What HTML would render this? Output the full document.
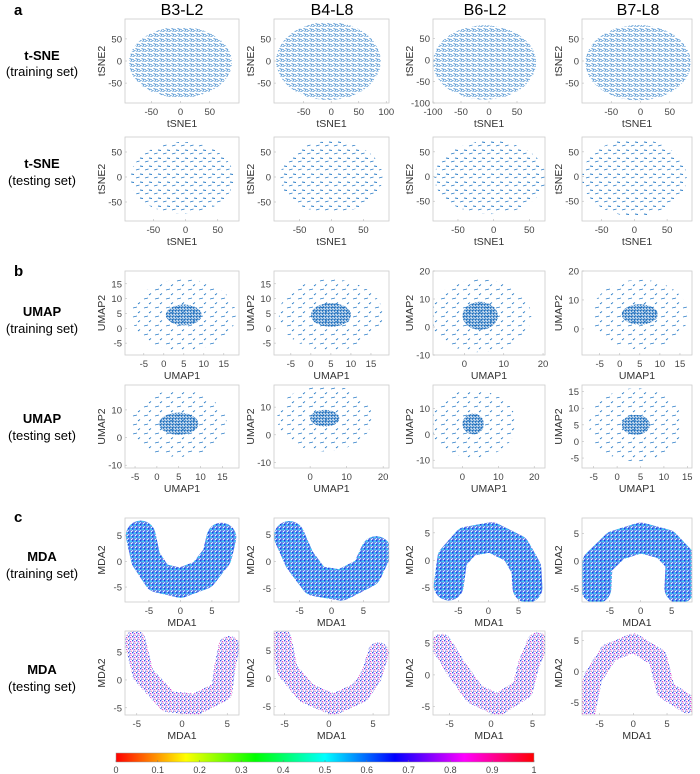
<!DOCTYPE html>
<html><head><meta charset="utf-8">
<style>
html,body{margin:0;padding:0;background:#fff;}
svg{display:block;font-family:"Liberation Sans",Arial,sans-serif;}
</style></head>
<body>
<svg id="fig" width="700" height="774" viewBox="0 0 700 774" xmlns="http://www.w3.org/2000/svg">
<defs>
  <pattern id="pTrain" width="6" height="5" patternUnits="userSpaceOnUse">
    <g stroke="#2a7cc7" stroke-width="0.9" fill="none">
      <path d="M0.5 1.5 l3 -1"/><path d="M3.5 3.5 l2.5 1"/><path d="M0.5 4 l1 1"/><path d="M4.5 1.5 l1.5 -1"/>
    </g>
  </pattern>
  <pattern id="pTest" width="9" height="8" patternUnits="userSpaceOnUse">
    <g stroke="#2a7cc7" stroke-width="0.9" fill="none">
      <path d="M1 2 l3.5 -1"/><path d="M5 6 l3 0.5"/>
    </g>
  </pattern>
  <pattern id="pUmapDense" width="3" height="3" patternUnits="userSpaceOnUse">
    <g stroke="#1f6fbd" stroke-width="1" fill="none"><path d="M0 1 l3 1"/><path d="M1 3 l1.5 -3"/></g>
  </pattern>
  <pattern id="pUmapSparse" width="11" height="9" patternUnits="userSpaceOnUse">
    <g stroke="#2a7cc7" stroke-width="0.9" fill="none"><path d="M1 2 l4 -1"/><path d="M6 7 l2 -1.5"/></g>
  </pattern>
  <pattern id="pMdaTrain" width="4" height="4" patternUnits="userSpaceOnUse">
    <rect width="4" height="4" fill="#55a6f2"/>
    <rect x="0" y="0" width="1.4" height="1.4" fill="#1a3de6"/>
    <rect x="2" y="1" width="1.3" height="1.3" fill="#36dcf2"/>
    <rect x="1" y="2.6" width="1.2" height="1.2" fill="#6a48e2"/>
    <rect x="3" y="3" width="1" height="1" fill="#ffffff"/>
    <rect x="0" y="2" width="0.8" height="0.8" fill="#ffffff"/>
    <rect x="2.6" y="2.4" width="0.8" height="0.8" fill="#d838c8"/>
  </pattern>
  <pattern id="pMdaTest" width="4" height="4" patternUnits="userSpaceOnUse">
    <rect width="4" height="4" fill="#ffffff"/>
    <rect x="0" y="0" width="1.4" height="1.4" fill="#4050e8"/>
    <rect x="2" y="1" width="1.2" height="1.2" fill="#d040d8"/>
    <rect x="1" y="2.6" width="1.2" height="1.2" fill="#6a70f0"/>
    <rect x="3" y="2.8" width="0.9" height="0.9" fill="#f040a0"/>
    <rect x="2.2" y="3.2" width="0.6" height="0.6" fill="#40c8f0"/>
  </pattern>
  <linearGradient id="hsvGrad" x1="0" x2="1" y1="0" y2="0">
    <stop offset="0" stop-color="#ff0000"/><stop offset="0.167" stop-color="#ffff00"/>
    <stop offset="0.333" stop-color="#00ff00"/><stop offset="0.5" stop-color="#00ffff"/>
    <stop offset="0.667" stop-color="#0000ff"/><stop offset="0.833" stop-color="#ff00ff"/>
    <stop offset="1" stop-color="#ff0000"/>
  </linearGradient>
</defs>

<text x="14" y="15" font-size="15" font-weight="bold">a</text>
<text x="14" y="276" font-size="15" font-weight="bold">b</text>
<text x="14" y="522" font-size="15" font-weight="bold">c</text>

<text x="182" y="15" font-size="16" text-anchor="middle">B3-L2</text>
<text x="332" y="15" font-size="16" text-anchor="middle">B4-L8</text>
<text x="485" y="15" font-size="16" text-anchor="middle">B6-L2</text>
<text x="638" y="15" font-size="16" text-anchor="middle">B7-L8</text>

<g font-size="13" text-anchor="middle">
  <text x="42" y="60" font-weight="bold">t-SNE</text>
  <text x="42" y="76">(training set)</text>
  <text x="42" y="168" font-weight="bold">t-SNE</text>
  <text x="42" y="185">(testing set)</text>
  <text x="42" y="316" font-weight="bold">UMAP</text>
  <text x="42" y="333">(training set)</text>
  <text x="42" y="423" font-weight="bold">UMAP</text>
  <text x="42" y="440">(testing set)</text>
  <text x="42" y="561" font-weight="bold">MDA</text>
  <text x="42" y="578">(training set)</text>
  <text x="42" y="674" font-weight="bold">MDA</text>
  <text x="42" y="691">(testing set)</text>
</g>

<g id="panels"></g>

<g>
  <rect x="116" y="753" width="418" height="9" fill="url(#hsvGrad)" stroke="#999" stroke-width="0.5"/>
  <g id="cbTicks" font-size="9" fill="#444" text-anchor="middle"></g>
</g>
</svg>

<script>
const NS = "http://www.w3.org/2000/svg";
// ---- data arrays ----
const colBoxes = [[125,239],[274,389],[433,545],[582,692]];
const rowBoxes = { tsneTr:[19,103], tsneTe:[137,221], umapTr:[271,355], umapTe:[385,468], mdaTr:[518,602], mdaTe:[631,715] };
const tsneTrainXlim = [[-95,100],[-104,105],[-100,100],[-100,88]];
const tsneTrainYlim = [[-95,95],[-95,95],[-100,95],[-95,95]];
const tsneTrainXticks = [[-50,0,50],[-50,0,50,100],[-100,-50,0,50],[-50,0,50]];
const tsneTrainYticks = [[-50,0,50],[-50,0,50],[-100,-50,0,50],[-50,0,50]];
const tsneTestXlim = [[-94,83],[-90,90],[-85,72],[-80,88]];
const tsneTestYlim = [[-88,80],[-88,80],[-90,80],[-90,80]];
const tsneTicks = [-50,0,50];
// blob regions: [cx, cy, rx, ry]
const tsneTrainBlobs = [[0,-3,88,80],[-5,0,95,88],[-8,-6,92,86],[-4,-4,90,85]];
const tsneTestBlobs = [[-5,-2,80,72],[0,0,80,72],[-5,-2,78,74],[0,-2,80,78]];
const umapTrainXlim = [[-9.7,18.8],[-9.2,19.5],[-8,20.5],[-9.4,18]];
const umapTrainYlim = [[-9,19.3],[-9,19.3],[-10,20],[-9,20]];
const umapTrainXticks = [[-5,0,5,10,15],[-5,0,5,10,15],[0,10,20],[-5,0,5,10,15]];
const umapTrainYticks = [[-5,0,5,10,15],[-5,0,5,10,15],[-10,0,10,20],[0,10,20]];
const umapTestXlim = [[-7.3,18.8],[-9.9,21.6],[-8.2,23],[-7.5,16]];
const umapTestYlim = [[-11,19],[-12,18],[-13,19],[-8,17]];
const umapTestXticks = [[-5,0,5,10,15],[0,10,20],[0,10,20],[-5,0,5,10,15]];
const umapTestYticks = [[-10,0,10],[-10,0,10],[-10,0,10],[-5,0,5,10,15]];
// [cx, cy, coreRx, coreRy, outerRx, outerRy]
const umapTrainBlobs = [[5,4.5,4.5,3.5,13,12],[5,4.5,5,4,13,12],[4,4,4.5,5,13,13],[5,5,4.5,3.5,12,12]];
const umapTestBlobs = [[5,5,4.5,4,11,12],[4,6,4,3,13,12],[3,4,3,4,12,13],[4,5,3,3,10,11]];
const mdaTrainXlim = [[-8.8,9.3],[-9,9],[-9.2,9.4],[-9.5,8.3]];
const mdaTrainYlim = [[-7.9,8.4],[-7.5,8],[-7.6,7.7],[-7.5,7.8]];
const mdaTestXlim = [[-6.3,6.3],[-6.2,6.8],[-7,6.5],[-7.6,8.7]];
const mdaTestYlim = [[-6.3,8.8],[-6.5,8.5],[-6.3,6.9],[-7,6.5]];
const mdaTrainTicksX = [-5,0,5];
const mdaTrainTicksY = [-5,0,5];
// centerlines (data coords) and widths (data units)
const mdaTrainPaths = [
  [[-6.3,5],[-5.5,0.5],[-3.5,-3.2],[0,-4.2],[3.5,-2.6],[5.8,1],[6.5,4.6]],
  [[-6.6,4.6],[-5,0.3],[-2.5,-3.6],[1.5,-4.4],[5.5,-2],[7,1.8]],
  [[-6.6,-4.6],[-6,0.3],[-3.5,3.4],[0.5,4.2],[4.5,2],[6.3,-1.5],[6.5,-5]],
  [[-7.2,-5],[-7,-0.5],[-4,2.8],[0,4.2],[4,3],[6.5,0],[6.3,-5]]
];
const mdaTrainWidths = [5.2,5.2,5.2,5.2];
const mdaTestPaths = [
  [[-5.2,7],[-4.3,1],[-1.5,-3.9],[1.5,-4.4],[4.4,-2],[4.7,2],[5.2,6]],
  [[-5.4,7],[-4.7,1.5],[-2.5,-2.6],[0.5,-4.6],[3.5,-2.5],[4.8,0.5],[5.6,4.6]],
  [[-6,4.8],[-4.2,1],[-2,-3],[0.8,-4.7],[3.8,-2.2],[4.5,1.5],[5.6,5]],
  [[-7,-6.5],[-6,-1],[-3.6,3],[0,4.6],[3.6,2.2],[4.8,-3],[8,-5.2]]
];
const mdaTestWidths = [2.9,2.9,2.9,2.9];
const cbTicks = [0,0.1,0.2,0.3,0.4,0.5,0.6,0.7,0.8,0.9,1];

// ---- helpers ----
function mk(tag, attrs, parent){ const e=document.createElementNS(NS,tag); for(const k in attrs) e.setAttribute(k,attrs[k]); if(parent) parent.appendChild(e); return e; }
function scale(d0,d1,r0,r1){ return v => r0 + (v-d0)/(d1-d0)*(r1-r0); }
const root = document.getElementById('panels');

function panel(name, col, rowKey, xlim, ylim, xticks, yticks, xlabel, ylabel, draw){
  const [x0,x1]=colBoxes[col], [y0,y1]=rowBoxes[rowKey];
  const g = mk('g',{},root);
  
  
  const sx = scale(xlim[0],xlim[1],x0,x1), sy = scale(ylim[0],ylim[1],y1,y0);
  const cid = 'clip-'+name;
  const cp = mk('clipPath',{id:cid},g); mk('rect',{x:x0,y:y0,width:x1-x0,height:y1-y0},cp);
  const plot = mk('g',{'clip-path':'url(#'+cid+')'},g);
  
  
  draw(plot, sx, sy);
  const box = mk('rect',{x:x0,y:y0,width:x1-x0,height:y1-y0,fill:'none',stroke:'#ccc','stroke-width':0.8},g);
  
  
  xticks.forEach(t=>{ const x=sx(t); if(x<x0-2||x>x1+2) return;
    mk('line',{x1:x,x2:x,y1:y1,y2:y1-2,stroke:'#bbb','stroke-width':0.6},g);
    const tx = mk('text',{x:x,y:y1+12,'font-size':9.5,fill:'#444','text-anchor':'middle'},g); tx.textContent=t;
    
    
  });
  yticks.forEach(t=>{ const y=sy(t); if(y<y0-2||y>y1+2) return;
    mk('line',{x1:x0,x2:x0+2,y1:y,y2:y,stroke:'#bbb','stroke-width':0.6},g);
    const ty = mk('text',{x:x0-3,y:y+3.5,'font-size':9.5,fill:'#444','text-anchor':'end'},g); ty.textContent=t;
    
    
  });
  const xl = mk('text',{x:(x0+x1)/2,y:y1+24,'font-size':10.5,fill:'#333','text-anchor':'middle'},g); xl.textContent=xlabel;
  
  
  const yx = x0-20, yy=(y0+y1)/2;
  const yl = mk('text',{x:yx,y:yy,'font-size':10.5,fill:'#333','text-anchor':'middle',transform:`rotate(-90 ${yx} ${yy})`},g); yl.textContent=ylabel;
  
  
}

for(let c=0;c<4;c++){
  panel('tsne-train-'+c, c, 'tsneTr', tsneTrainXlim[c], tsneTrainYlim[c], tsneTrainXticks[c], tsneTrainYticks[c], 'tSNE1','tSNE2', (p,sx,sy)=>{
    const b=tsneTrainBlobs[c];
    const e=mk('ellipse',{cx:sx(b[0]),cy:sy(b[1]),rx:Math.abs(sx(b[0]+b[2])-sx(b[0])),ry:Math.abs(sy(b[1]+b[3])-sy(b[1])),fill:'url(#pTrain)'},p);
    
    
  });
  panel('tsne-test-'+c, c, 'tsneTe', tsneTestXlim[c], tsneTestYlim[c], tsneTicks, tsneTicks, 'tSNE1','tSNE2', (p,sx,sy)=>{
    const b=tsneTestBlobs[c];
    const e=mk('ellipse',{cx:sx(b[0]),cy:sy(b[1]),rx:Math.abs(sx(b[0]+b[2])-sx(b[0])),ry:Math.abs(sy(b[1]+b[3])-sy(b[1])),fill:'url(#pTest)'},p);
    
    
  });
  const umapDraw = blob => (p,sx,sy)=>{
    const o=mk('ellipse',{cx:sx(blob[0]),cy:sy(blob[1]),rx:Math.abs(sx(blob[0]+blob[4])-sx(blob[0])),ry:Math.abs(sy(blob[1]+blob[5])-sy(blob[1])),fill:'url(#pUmapSparse)'},p);
    
    
    const i=mk('ellipse',{cx:sx(blob[0]),cy:sy(blob[1]),rx:Math.abs(sx(blob[0]+blob[2])-sx(blob[0])),ry:Math.abs(sy(blob[1]+blob[3])-sy(blob[1])),fill:'url(#pUmapDense)'},p);
    
    
  };
  panel('umap-train-'+c, c, 'umapTr', umapTrainXlim[c], umapTrainYlim[c], umapTrainXticks[c], umapTrainYticks[c], 'UMAP1','UMAP2', umapDraw(umapTrainBlobs[c]));
  panel('umap-test-'+c, c, 'umapTe', umapTestXlim[c], umapTestYlim[c], umapTestXticks[c], umapTestYticks[c], 'UMAP1','UMAP2', umapDraw(umapTestBlobs[c]));
  const mdaDraw = (pts,w,fill) => (p,sx,sy)=>{
    const d = pts.map((q,i)=>(i?'L':'M')+sx(q[0]).toFixed(1)+' '+sy(q[1]).toFixed(1)).join(' ');
    const pw = (Math.abs(sx(w)-sx(0)) + Math.abs(sy(w)-sy(0)))/2;
    const l=mk('path',{d:d,fill:'none',stroke:fill,'stroke-width':pw,'stroke-linecap':'round','stroke-linejoin':'round'},p);
    
    
  };
  panel('mda-train-'+c, c, 'mdaTr', mdaTrainXlim[c], mdaTrainYlim[c], mdaTrainTicksX, mdaTrainTicksY, 'MDA1','MDA2', mdaDraw(mdaTrainPaths[c], mdaTrainWidths[c], 'url(#pMdaTrain)'));
  panel('mda-test-'+c, c, 'mdaTe', mdaTestXlim[c], mdaTestYlim[c], mdaTrainTicksX, mdaTrainTicksY, 'MDA1','MDA2', mdaDraw(mdaTestPaths[c], mdaTestWidths[c], 'url(#pMdaTest)'));
}

const cbg = document.getElementById('cbTicks');
const cbx = scale(0,1,116,534);
cbTicks.forEach(t=>{
  mk('line',{x1:cbx(t),x2:cbx(t),y1:760,y2:762,stroke:'#777','stroke-width':0.5},cbg);
  const tx=mk('text',{x:cbx(t),y:773},cbg); tx.textContent=t;
  
  
});
</script>
</body></html>
